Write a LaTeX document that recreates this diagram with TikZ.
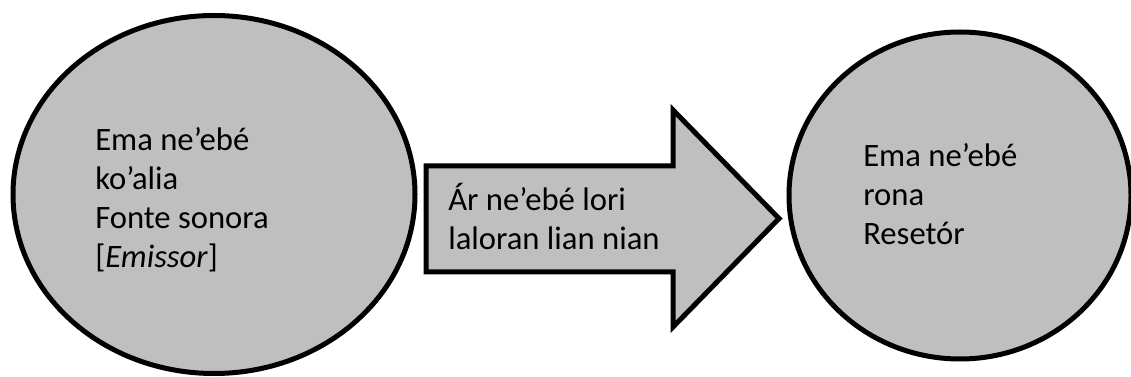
\documentclass[tikz,border=0pt]{standalone}
\usepackage{fontspec}
\setmainfont{Carlito}
\usetikzlibrary{shapes.geometric}
\definecolor{shapegray}{HTML}{BFBFBF}

\begin{document}
\begin{tikzpicture}[x=0.75pt,y=-0.75pt,
        blob/.style={ellipse,draw=black,fill=shapegray,line width=3.75pt,inner sep=0pt},
        words/.style={anchor=base west,align=left,inner sep=0pt,font=\fontsize{24.5}{29.3}\selectfont}]
                \useasboundingbox (0,0) rectangle (1131,377);

                \node[blob,minimum width=301.5pt,minimum height=268.5pt] (Src) at (214,194.5) {};
                \node[blob,minimum width=256.5pt,minimum height=245.25pt] (Dst) at (960,195.5) {};

                \draw[fill=shapegray,line width=3.75pt]
                    (426,166) -- (673,166) -- (673,110) -- (779,218.5)
                    -- (673,327) -- (673,272) -- (426,272) -- cycle;

                % base anchor sits on the last line
                \node[words] (SrcText) at (95,268) {Ema ne’ebé\\ko’alia\\Fonte sonora\\{[}\textit{Emissor}{]}};
                \node[words] (MsgText) at (448,250) {Ár ne’ebé lori\\laloran lian nian};
                \node[words] (DstText) at (863,245) {Ema ne’ebé\\rona\\Resetór};
            \end{tikzpicture}
\end{document}
